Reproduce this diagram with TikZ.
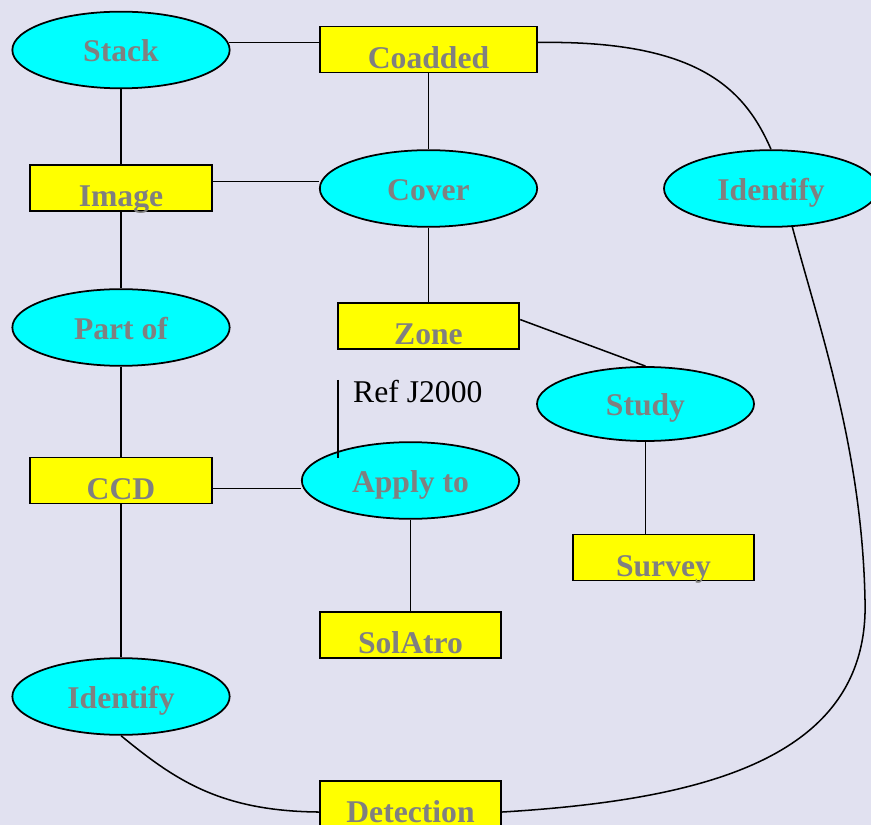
\documentclass[tikz,border=0pt]{standalone}
\usepackage{fontspec}
\setmainfont{Liberation Serif}
\usepackage{xcolor}
\usetikzlibrary{shapes.geometric}
\definecolor{backlav}{HTML}{E1E1F0}
\definecolor{labgray}{HTML}{808080}
\definecolor{ovalcyan}{HTML}{00FFFF}
\definecolor{boxyellow}{HTML}{FFFF00}
\tikzset{
  oval/.style={ellipse,draw,line width=1.5pt,fill=ovalcyan,inner sep=0pt,
    minimum width=6.52cm,minimum height=2.3cm,text height=20pt,text depth=0pt,
    text=labgray,font=\fontsize{27}{30}\selectfont\bfseries},
  box/.style={rectangle,draw,line width=1.5pt,fill=boxyellow,inner sep=0pt,
    minimum width=5.45cm,minimum height=1.38cm,text height=32pt,text depth=0pt,
    text=labgray,font=\fontsize{27}{30}\selectfont\bfseries},
  link/.style={line width=1.3pt}
}

\begin{document}
\begin{tikzpicture}[x=0.03cm,y=-0.03cm]
    \clip (0,0) rectangle (871,825);
    \fill[backlav] (0,0) rectangle (871,825);

    % left column
    \node[oval] (Stack) at (121,50) {Stack};
    \node[box] (Image) at (121,188) {Image};
    \node[oval] (Partof) at (121,327.5) {Part of};
    \node[box] (CCD) at (121,480.5) {CCD};
    \node[oval] (IdentifyL) at (121,696.5) {Identify};

    % middle column
    \node[box,minimum width=6.51cm] (Coadded) at (428.5,49.5) {Coadded};
    \node[oval] (Cover) at (428.5,188.5) {Cover};
    \node[box] (Zone) at (428.5,326) {Zone};
    \node[oval] (Applyto) at (410.5,480.5) {Apply to};
    \node[box] (SolAtro) at (410.5,635) {SolAtro};
    \node[box] (Detection) at (410.5,804) {Detection};

    % right column
    \node[oval,minimum width=6.42cm] (IdentifyR) at (771,188.5) {Identify};
    \node[oval,minimum width=6.51cm,minimum height=2.22cm] (Study) at (645.5,404) {Study};
    \node[box] (Survey) at (663.5,557.5) {Survey};

    \node[anchor=base west,inner sep=0pt,font=\fontsize{27}{30}\selectfont] (Ref) at (353,403) {Ref J2000};
    \coordinate (reftop) at (338,380);
    \coordinate (refbot) at (338,458);
    \draw[link] (reftop)--(refbot);

    \draw[link] (Stack.4)--(Stack.4 -| Coadded.west);
    \draw[link] (Stack.south)--(Image.north);
    \draw[link] (Image.south)--(Partof.north);
    \draw[link] (Partof.south)--(CCD.north);
    \draw[link] (CCD.south)--(IdentifyL.north);
    \draw[link] (Image.4)--(Image.4 -| Cover.west);
    \draw[link] (CCD.-5)--(CCD.-5 -| Applyto.west);
    \draw[link] (Coadded.south)--(Cover.north);
    \draw[link] (Cover.south)--(Zone.north);
    \draw[link] (Applyto.south)--(SolAtro.north);
    \draw[link] (Zone.4)--(Study.north);
    \draw[link] (Study.south)--(Study.south |- Survey.north);

    \draw[link] (Stack.4 -| Coadded.east) .. controls (700,40) and (745,90) .. (IdentifyR.north);
    \draw[link] (IdentifyL.south) .. controls (175,780) and (220,811) .. (Detection.185);
    \coordinate (bend) at (865,600);
    \draw[link] (Detection.-5) .. controls (700,800) and (870,760) .. (bend)
                .. controls (862,450) and (820,330) .. (IdentifyR.-61);
\end{tikzpicture}
\end{document}
